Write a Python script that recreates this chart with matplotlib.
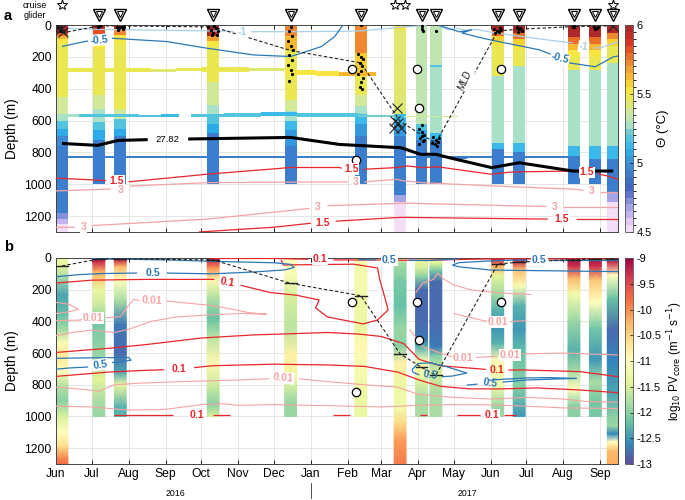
import numpy as np
import matplotlib
matplotlib.use("Agg")
import matplotlib.pyplot as plt
import matplotlib.dates as mdates
import matplotlib.transforms as mtransforms
from matplotlib.colors import ListedColormap, BoundaryNorm, Normalize
from matplotlib.cm import ScalarMappable

plt.rcParams['font.family'] = ['Liberation Sans', 'DejaVu Sans']
plt.rcParams['axes.unicode_minus'] = False


def d(s):
    return mdates.datestr2num(s)


def dl(lst):
    return np.array([d(s) for s in lst])

# ---------------------------------------------------------------- data
prof_dates = ['2016-06-06', '2016-07-07', '2016-07-25', '2016-10-11', '2016-12-15',
              '2017-02-12', '2017-03-17', '2017-04-04', '2017-04-16', '2017-06-07',
              '2017-06-25', '2017-08-10', '2017-08-28', '2017-09-12']
mld_depth = [50, 6, 6, 12, 160, 238, 605, 690, 740, 38, 26, 10, 8, 5]

# potential temperature step profiles (layer edges, values)
th_z1 = [0, 50, 70, 90, 110, 450, 560, 600, 650, 700, 760, 1180, 1220, 1250, 1300]
th_v1 = [5.97, 5.75, 5.6, 5.5, 5.45, 5.35, 5.27, 5.17, 5.07, 4.97, 4.92, 4.72, 4.62, 4.52]
th_z2 = [0, 30, 60, 90, 120, 150, 440, 530, 610, 660, 720, 1000]
th_v2 = [5.95, 5.8, 5.65, 5.55, 5.5, 5.45, 5.35, 5.27, 5.15, 5.05, 4.93]
th_z3 = [0, 30, 60, 110, 530, 590, 650, 700, 1000]
th_v3 = [5.95, 5.7, 5.52, 5.45, 5.35, 5.15, 5.05, 4.93]
th_z4 = [0, 70, 100, 130, 360, 500, 560, 620, 680, 1000]
th_v4 = [5.95, 5.65, 5.52, 5.45, 5.35, 5.27, 5.15, 5.05, 4.93]
th_z5 = [0, 70, 155, 470, 540, 600, 660, 760, 1000]
th_v5 = [5.72, 5.6, 5.45, 5.35, 5.25, 5.13, 5.03, 4.93]
th_z6 = [0, 175, 320, 440, 510, 560, 620, 700, 1000]
th_v6 = [5.72, 5.58, 5.45, 5.35, 5.27, 5.13, 5.03, 4.93]
th_z7 = [0, 30, 560, 620, 700, 1070, 1110, 1300]
th_v7 = [5.5, 5.43, 5.12, 5.03, 4.93, 4.65, 4.52]
th_z8 = [0, 620, 660, 720, 1000]
th_v8 = [5.33, 5.15, 5.05, 4.93]
th_z9 = [0, 250, 262, 680, 720, 1000]
th_v9 = [5.33, 5.15, 5.27, 5.12, 4.93]
th_z10 = [0, 40, 70, 100, 135, 320, 740, 780, 1000]
th_v10 = [5.95, 5.75, 5.55, 5.5, 5.45, 5.27, 5.12, 4.93]
th_z11 = [0, 50, 90, 130, 155, 260, 740, 800, 1000]
th_v11 = [5.95, 5.75, 5.58, 5.5, 5.45, 5.27, 5.12, 4.93]
th_z12 = [0, 75, 120, 160, 200, 280, 760, 820, 1000]
th_v12 = [5.95, 5.75, 5.6, 5.5, 5.45, 5.27, 5.12, 4.93]
th_z13 = [0, 75, 120, 160, 200, 280, 760, 840, 1000]
th_v13 = [5.95, 5.75, 5.6, 5.5, 5.45, 5.27, 5.12, 4.93]
th_z14 = [0, 50, 90, 130, 240, 760, 840, 1050, 1110, 1300]
th_v14 = [5.95, 5.7, 5.55, 5.45, 5.27, 5.12, 4.93, 4.65, 4.52]

# horizontal (float) bands: start, end, centre depth, half thickness, theta
band_t0 = ['2016-06-01', '2016-07-15', '2016-08-20', '2016-09-10', '2016-10-01', '2016-11-10',
           '2016-12-10', '2017-01-05', '2017-01-25',
           '2016-06-01', '2016-06-20', '2016-07-20', '2016-08-10', '2016-08-28', '2016-09-22',
           '2016-10-20', '2016-11-20', '2016-12-20', '2017-02-10', '2017-03-20',
           '2016-06-01', '2016-07-01', '2017-04-28', '2017-07-20']
band_t1 = ['2016-07-15', '2016-08-20', '2016-09-10', '2016-10-01', '2016-11-10', '2016-12-10',
           '2017-01-05', '2017-01-25', '2017-02-25',
           '2016-06-20', '2016-07-20', '2016-08-10', '2016-08-28', '2016-09-12', '2016-10-20',
           '2016-11-20', '2016-12-20', '2017-02-10', '2017-03-15', '2017-05-05',
           '2017-08-10', '2016-07-20', '2017-05-12', '2017-08-05']
band_z = [281, 283, 285, 280, 279, 282, 296, 305, 310,
          570, 570, 568, 572, 568, 568, 565, 560, 565, 570, 575,
          828, 828, 830, 830]
band_h = [12, 10, 8, 12, 14, 10, 15, 15, 13,
          8, 8, 11, 6, 11, 8, 10, 13, 10, 5, 4,
          5, 7, 10, 7]
band_v = [5.45, 5.45, 5.44, 5.45, 5.45, 5.44, 5.5, 5.53, 5.6,
          5.25, 5.18, 5.15, 5.18, 5.13, 5.15, 5.15, 5.13, 5.15, 5.2, 5.38,
          4.93, 4.93, 4.93, 4.93]

# log10 PV profiles (node depth, value)
pv_z1 = [0, 40, 120, 235, 360, 460, 530, 620, 720, 800, 900, 1000, 1100, 1185, 1260, 1300]
pv_v1 = [-11.3, -11.3, -11.8, -12.4, -12.2, -11.8, -11.1, -10.7, -11.0, -11.7, -12.0, -11.5, -11.0, -10.6, -10.0, -9.8]
pv_z2 = [0, 25, 85, 200, 300, 420, 520, 620, 760, 900, 1000]
pv_v2 = [-9.1, -9.3, -10.2, -11.3, -11.6, -12.1, -12.0, -11.9, -11.4, -11.8, -11.9]
pv_z3 = [0, 15, 55, 140, 270, 420, 600, 720, 800, 940, 1000]
pv_v3 = [-9.1, -9.3, -10.3, -11.0, -11.8, -12.7, -12.8, -12.4, -11.3, -12.3, -12.3]
pv_z4 = [0, 15, 60, 140, 240, 380, 500, 660, 820, 920, 1000]
pv_v4 = [-9.1, -9.3, -10.0, -10.9, -11.7, -12.2, -11.7, -10.9, -11.6, -12.0, -11.5]
pv_z5 = [0, 70, 240, 430, 610, 760, 910, 1000]
pv_v5 = [-11.0, -11.0, -11.5, -11.7, -10.8, -11.3, -11.9, -11.9]
pv_z6 = [0, 200, 450, 550, 660, 850, 1000]
pv_v6 = [-11.2, -11.2, -11.3, -10.9, -11.1, -11.3, -11.3]
pv_z7 = [0, 30, 150, 300, 450, 560, 660, 800, 950, 1060, 1150, 1300]
pv_v7 = [-11.2, -11.8, -12.1, -12.2, -11.9, -12.0, -10.8, -11.3, -11.2, -10.5, -10.1, -9.9]
pv_z8 = [0, 60, 120, 200, 400, 520, 560, 650, 750, 880, 1000]
pv_v8 = [-11.3, -11.5, -12.0, -12.8, -12.8, -12.7, -12.3, -11.1, -11.3, -11.8, -11.8]
pv_z9 = [0, 30, 80, 150, 400, 560, 620, 720, 850, 1000]
pv_v9 = [-11.4, -11.4, -12.1, -12.8, -12.8, -12.7, -12.0, -11.5, -11.8, -11.8]
pv_z10 = [0, 15, 50, 110, 240, 330, 450, 540, 640, 800, 940, 1000]
pv_v10 = [-9.1, -9.3, -10.2, -11.4, -11.9, -12.3, -12.5, -12.3, -10.9, -11.2, -11.9, -11.9]
pv_z11 = [0, 15, 70, 180, 300, 450, 600, 800, 920, 1000]
pv_v11 = [-9.1, -9.2, -10.3, -11.1, -12.3, -12.5, -12.2, -12.0, -12.3, -12.5]
pv_z12 = [0, 50, 130, 230, 400, 580, 720, 830, 930, 1000]
pv_v12 = [-9.1, -9.3, -10.3, -11.2, -11.9, -12.3, -11.8, -11.0, -12.0, -12.0]
pv_z13 = [0, 50, 140, 280, 440, 640, 780, 900, 1000]
pv_v13 = [-9.1, -9.3, -10.4, -11.0, -12.1, -12.5, -11.8, -12.1, -12.1]
pv_z14 = [0, 25, 110, 260, 450, 660, 850, 1000, 1060, 1110, 1160, 1220, 1300]
pv_v14 = [-9.1, -9.3, -11.0, -12.2, -12.8, -12.6, -12.4, -12.0, -11.9, -12.6, -11.0, -10.3, -10.2]

# ---- panel a contour lines (date, depth)
lb1 = (['2016-06-12', '2016-07-10', '2016-08-20', '2016-10-20', '2016-10-28'], [22, 28, 32, 38, 40])
lb2 = (['2016-11-12', '2016-12-20', '2017-01-20', '2017-02-10', '2017-03-01', '2017-03-20', '2017-04-08'],
       [42, 42, 40, 38, 26, 12, 4])
lb3 = (['2017-04-18', '2017-04-28', '2017-05-03', '2017-05-12', '2017-05-20', '2017-06-01',
        '2017-06-20', '2017-07-15', '2017-08-09'], [10, 30, 18, 35, 28, 45, 65, 90, 113])
lb4 = (['2017-08-26', '2017-09-01', '2017-09-16'], [144, 144, 105])
bl1 = (['2016-06-06', '2016-06-18', '2016-06-28'], [135, 115, 100])
bl2 = (['2016-07-18', '2016-09-02', '2016-10-06', '2016-11-14', '2016-12-15', '2016-12-24',
        '2017-01-10', '2017-01-21', '2017-01-27', '2017-01-28'], [83, 104, 146, 188, 198, 177, 135, 73, 10, 0])
bl3 = (['2017-04-20', '2017-04-26', '2017-05-06', '2017-05-16', '2017-05-08', '2017-05-20',
        '2017-06-01', '2017-07-12', '2017-07-22'], [6, 20, 43, 30, 50, 73, 94, 156, 185])
bl4 = (['2017-08-06', '2017-08-28', '2017-09-12', '2017-09-16'], [238, 262, 200, 195])
r15_1 = (['2016-06-01', '2016-07-08', '2016-07-13'], [962, 975, 978])
r15_2 = (['2016-08-01', '2016-10-06', '2016-12-15', '2017-01-25', '2017-01-27'], [985, 937, 895, 895, 900])
r15_3 = (['2017-02-14', '2017-03-13', '2017-03-23', '2017-04-05', '2017-04-17', '2017-06-01',
          '2017-06-19', '2017-08-09', '2017-08-12'], [906, 896, 885, 896, 890, 937, 923, 917, 920])
r15_4 = (['2017-08-30', '2017-09-07', '2017-09-16'], [935, 948, 969])
r15_5 = (['2016-09-29', '2016-12-01', '2017-01-01'], [1300, 1270, 1245])
r15_6 = (['2017-01-22', '2017-03-17', '2017-07-19'], [1232, 1208, 1219])
r15_7 = (['2017-08-12', '2017-09-16'], [1219, 1219])
p3_1 = (['2016-06-01', '2016-07-17'], [1042, 1030])
p3_2 = (['2016-08-02', '2016-10-06', '2017-02-01'], [1012, 990, 985])
p3_3 = (['2017-02-15', '2017-03-14', '2017-03-20', '2017-04-04', '2017-06-01', '2017-08-09',
         '2017-08-18'], [985, 969, 979, 990, 1010, 1031, 1038])
p3_4 = (['2017-09-01', '2017-09-16'], [1048, 1048])
p3_5 = (['2016-06-01', '2016-06-17'], [1271, 1270])
p3_6 = (['2016-07-01', '2016-10-06', '2016-12-31'], [1260, 1219, 1152])
p3_7 = (['2017-01-15', '2017-03-22', '2017-07-18'], [1135, 1119, 1140])
p3_8 = (['2017-08-01', '2017-09-16'], [1146, 1146])
k_1 = (['2016-06-06', '2016-07-06', '2016-07-23', '2016-08-17'], [744, 756, 725, 720])
k_2 = (['2016-09-20', '2016-12-15', '2017-01-25', '2017-03-18', '2017-04-03', '2017-04-16',
        '2017-04-27', '2017-06-02', '2017-06-25', '2017-08-09', '2017-09-12'],
       [716, 706, 750, 771, 812, 812, 833, 896, 865, 917, 917])

# circles, crosses, glider dots
circ_t = ['2017-02-05', '2017-03-31', '2017-04-02', '2017-06-10', '2017-02-08']
circ_z = [275, 275, 520, 275, 845]
cross_t = ['2016-06-03', '2016-06-05', '2016-06-07', '2016-06-04', '2017-03-14', '2017-03-13',
           '2017-03-15', '2017-03-12', '2017-03-18', '2017-09-12']
cross_z = [8, 25, 45, 15, 520, 600, 615, 645, 648, 5]
dot_t = ['2016-06-03', '2016-06-05', '2016-06-07', '2016-06-04',
         '2016-07-07', '2016-07-06', '2016-07-08',
         '2016-07-22', '2016-07-24', '2016-07-26', '2016-07-28', '2016-07-23', '2016-07-27',
         '2016-10-07', '2016-10-09', '2016-10-11', '2016-10-13', '2016-10-15', '2016-10-10',
         '2016-10-12', '2016-10-14',
         '2016-12-15', '2016-12-14', '2016-12-16', '2016-12-13', '2016-12-15', '2016-12-17',
         '2016-12-14', '2016-12-16', '2016-12-13', '2016-12-15', '2016-12-16', '2016-12-14',
         '2017-02-10', '2017-02-12', '2017-02-14', '2017-02-11', '2017-02-13', '2017-02-12',
         '2017-02-10', '2017-02-14', '2017-02-12', '2017-02-11', '2017-02-13', '2017-02-12',
         '2017-04-04', '2017-04-04', '2017-04-05',
         '2017-04-02', '2017-04-04', '2017-04-06', '2017-04-03', '2017-04-05', '2017-04-04',
         '2017-04-02', '2017-04-06', '2017-04-04',
         '2017-04-16', '2017-04-14', '2017-04-16', '2017-04-18', '2017-04-15', '2017-04-17',
         '2017-04-19', '2017-04-13',
         '2017-06-04', '2017-06-06', '2017-06-08', '2017-06-10', '2017-06-05', '2017-06-09',
         '2017-06-23', '2017-06-25', '2017-06-27', '2017-06-24', '2017-06-26',
         '2017-08-10', '2017-08-10', '2017-08-09',
         '2017-08-27', '2017-08-29', '2017-08-28', '2017-08-30']
dot_z = [10, 20, 35, 40,
         5, 10, 8,
         10, 20, 15, 10, 30, 28,
         10, 30, 50, 20, 40, 60, 5, 65,
         10, 40, 70, 100, 130, 160, 190, 220, 250, 280, 310, 350,
         180, 200, 215, 240, 260, 290, 310, 330, 360, 390, 405, 2,
         5, 25, 40,
         650, 670, 690, 710, 730, 700, 745, 720, 625,
         40, 705, 720, 735, 750, 760, 710, 740,
         25, 35, 45, 30, 50, 20,
         15, 25, 35, 45, 20,
         5, 15, 10,
         10, 20, 25, 15]

# ---- panel b contour lines
br_s1 = (['2016-10-08', '2016-12-01', '2016-12-30'], [3, 3, 8])
br_s2 = (['2017-01-20', '2017-03-01', '2017-04-01', '2017-05-01', '2017-06-01', '2017-09-16'], [12, 13, 15, 10, 6, 6])
br_a1 = (['2016-06-01', '2016-07-01', '2016-08-15', '2016-10-12'], [158, 140, 135, 135])
br_a2 = (['2016-11-03', '2016-11-28', '2016-12-20', '2017-01-08', '2017-01-05', '2017-01-15',
          '2017-02-14', '2017-02-26', '2017-03-07', '2017-03-04', '2017-02-28', '2017-02-26',
          '2017-02-06', '2016-12-09', '2016-12-07'],
         [172, 218, 235, 265, 315, 372, 416, 391, 328, 245, 139, 63, 39, 44, 12])
br_b1 = (['2016-06-01', '2016-07-15', '2016-08-15', '2016-10-01', '2016-11-15', '2016-12-15',
          '2017-01-15', '2017-02-10', '2017-03-01', '2017-03-20', '2017-04-02', '2017-04-20',
          '2017-05-20', '2017-05-28'],
         [596, 570, 547, 505, 485, 478, 470, 480, 495, 540, 640, 680, 698, 703])
br_b2 = (['2017-06-16', '2017-07-01', '2017-08-15', '2017-09-16'], [707, 707, 717, 749])
br_c1 = (['2016-06-01', '2016-07-15', '2016-08-15', '2016-08-31'], [747, 720, 709, 705])
br_c2 = (['2016-09-25', '2016-10-10', '2016-12-01', '2017-01-15', '2017-02-15', '2017-03-15',
          '2017-04-02', '2017-04-20', '2017-05-15', '2017-06-10', '2017-07-10', '2017-08-15',
          '2017-09-16'], [692, 680, 670, 675, 684, 720, 770, 810, 826, 826, 820, 833, 850])
br_d1 = (['2016-07-20', '2016-09-07'], [989, 989])
br_d2 = (['2016-10-11', '2016-10-25'], [989, 989])
br_d3 = (['2017-01-20', '2017-02-03'], [989, 989])
br_d4 = (['2017-04-03', '2017-04-09'], [989, 989])
br_d5 = (['2017-05-04', '2017-05-23'], [989, 989])
br_d6 = (['2017-06-12', '2017-06-22'], [989, 989])
bb_1 = (['2016-06-01', '2016-06-20', '2016-07-10', '2016-08-08'], [118, 105, 98, 95])
bb_2 = (['2016-09-02', '2016-10-10', '2016-11-15', '2016-12-10', '2016-12-18', '2016-12-15',
         '2016-12-01', '2016-10-15', '2016-09-01', '2016-07-15', '2016-07-01'],
        [95, 100, 88, 75, 60, 40, 30, 22, 12, 6, 5])
bb_3 = (['2016-06-01', '2016-07-01', '2016-08-01', '2016-08-03', '2016-07-25', '2016-07-18'],
        [633, 630, 628, 645, 655, 660])
bb_4 = (['2016-06-28', '2016-06-12', '2016-06-01'], [688, 694, 702])
bb_5 = (['2017-02-10', '2017-02-25'], [10, 12])
bb_6 = (['2017-03-24', '2017-04-10', '2017-04-25', '2017-05-05'], [14, 16, 10, 5])
bb_7 = (['2017-04-30', '2017-05-05', '2017-05-20', '2017-06-10', '2017-07-02'], [45, 30, 23, 15, 13])
bb_8 = (['2017-07-22', '2017-09-16'], [13, 13])
bb_9 = (['2017-04-30', '2017-05-05', '2017-06-01', '2017-09-16'], [45, 55, 76, 86])
bb_10 = (['2017-03-27', '2017-04-01', '2017-04-12', '2017-04-25', '2017-05-12', '2017-04-30',
          '2017-04-21'], [705, 665, 662, 686, 726, 745, 749])
bb_11 = (['2017-04-02', '2017-03-28', '2017-03-27'], [738, 722, 705])
bb_12 = (['2017-05-12', '2017-05-21'], [802, 796])
bb_13 = (['2017-06-11', '2017-07-01', '2017-08-01', '2017-08-12', '2017-07-20', '2017-07-01',
          '2017-06-12', '2017-05-30'], [783, 770, 762, 760, 755, 757, 765, 772])
pk_1 = (['2016-06-01', '2016-06-12', '2016-06-20', '2016-06-08', '2016-06-01'], [280, 292, 325, 345, 350])
pk_2 = (['2016-06-01', '2016-06-20', '2016-06-24'], [395, 392, 388])
pk_3 = (['2016-07-13', '2016-07-25', '2016-08-01', '2016-08-05', '2016-08-10'], [378, 370, 300, 262, 268])
pk_4 = (['2016-09-02', '2016-09-20', '2016-10-10', '2016-10-25', '2016-11-10', '2016-11-25',
         '2016-11-05', '2016-10-10', '2016-09-10', '2016-08-20', '2016-08-01', '2016-07-20',
         '2016-07-01', '2016-06-15', '2016-06-01'],
        [272, 285, 300, 320, 345, 355, 350, 358, 372, 400, 450, 470, 455, 470, 490])
pk_5 = (['2016-06-01', '2016-06-25', '2016-07-07', '2016-07-20', '2016-08-10', '2016-09-15',
         '2016-11-01', '2016-11-27'], [815, 830, 840, 800, 790, 780, 770, 762])
pk_6 = (['2016-12-22', '2017-01-15', '2017-02-15', '2017-03-15', '2017-04-01', '2017-05-01',
         '2017-06-01', '2017-07-01', '2017-08-01', '2017-08-20', '2017-09-16'],
        [762, 780, 800, 815, 860, 880, 890, 880, 890, 905, 910])
pk_7 = (['2016-06-01', '2016-07-01', '2016-08-01', '2016-09-01', '2016-10-01', '2016-10-20',
         '2016-11-01', '2016-12-01', '2017-01-01', '2017-02-01', '2017-03-01', '2017-04-01',
         '2017-05-01', '2017-06-01', '2017-07-01', '2017-08-01', '2017-09-16'],
        [935, 940, 960, 955, 925, 920, 930, 925, 930, 935, 940, 930, 925, 927, 935, 946, 950])
pk_8 = (['2017-03-30', '2017-04-05', '2017-04-14', '2017-04-18', '2017-04-22', '2017-05-01',
         '2017-05-15', '2017-06-01', '2017-06-20', '2017-07-05'],
        [220, 160, 135, 95, 130, 170, 200, 215, 225, 230])
pk_9 = (['2017-05-01', '2017-05-20', '2017-05-29'], [350, 385, 400])
pk_10 = (['2017-06-17', '2017-07-01'], [402, 395])
pk_11 = (['2017-03-25', '2017-04-05', '2017-04-20', '2017-04-30'], [450, 560, 600, 625])
pk_12 = (['2017-05-20', '2017-06-06'], [628, 620])
pk_13 = (['2017-06-27', '2017-08-01', '2017-09-16'], [605, 600, 612])

# ---------------------------------------------------------------- colours
theta_cols = ['#f2def6', '#e2cbf2', '#c4b4ee', '#a4a4e6', '#8290da', '#5e74cf', '#3f66c4',
              '#3a6fc6', '#3c7ecd', '#3c8ad4', '#3699de', '#2daae8', '#3bbaea', '#52c4de',
              '#74ccd0', '#a8e0c8', '#c0e5b2', '#d2e99c', '#dde870', '#e9e852', '#f7e541',
              '#f8cf32', '#f7b831', '#f3a031', '#ef8830', '#ea6e28', '#e55022', '#dc3222',
              '#c52a28', '#ad2828']
theta_cmap = ListedColormap(theta_cols)
theta_norm = BoundaryNorm(np.linspace(4.5, 6.0, 31), 30)
pv_cmap = plt.get_cmap('Spectral_r')
pv_norm = Normalize(-13, -9)

C_RED = '#e8262b'
C_PINK = '#f6a3a3'
C_BLUE = '#2a78b8'
C_LBLUE = '#a9d0ea'

xmin, xmax = d('2016-06-01'), d('2017-09-16')
HW = 5.0

fig = plt.figure(figsize=(6.85, 5.0), dpi=100)
ax1 = fig.add_axes([56/685, 1-232/500, 562/685, 207/500])
ax2 = fig.add_axes([56/685, 1-464/500, 562/685, 206/500])
cax1 = fig.add_axes([625/685, 1-232/500, 8/685, 207/500])
cax2 = fig.add_axes([625/685, 1-464/500, 8/685, 206/500])


def style(ax):
    ax.set_xlim(xmin, xmax)
    ax.set_ylim(1300, 0)
    ax.set_yticks(range(0, 1300, 200))
    ax.xaxis.set_major_locator(mdates.MonthLocator())
    ax.xaxis.set_major_formatter(mdates.DateFormatter('%b'))
    ax.tick_params(direction='in', top=True, right=True, length=3, width=0.6,
                   labelsize=8.7, pad=3)
    ax.grid(True, color='#e2e2e2', lw=0.6)
    ax.set_axisbelow(True)
    for sp in ax.spines.values():
        sp.set_linewidth(0.7)
        sp.set_color('#444444')
    ax.set_ylabel('Depth (m)', fontsize=9.8, labelpad=4)


def line(ax, seg, color, lw=0.9, z=3):
    ax.plot(dl(seg[0]), seg[1], color=color, lw=lw, zorder=z, solid_capstyle='butt')


def lab(ax, t, z, s, color, rot=0, box=True, size=7.6, weight='bold', style_='normal'):
    kw = dict(ha='center', va='center', color=color, fontsize=size, fontweight=weight,
              rotation=rot, zorder=7, fontstyle=style_)
    if box:
        kw['bbox'] = dict(boxstyle='square,pad=0.08', fc='white', ec='none')
    ax.text(d(t), z, s, **kw)


# ---------------------------------------------------------------- panel a
style(ax1)
ax1.tick_params(labelbottom=False)
th_z = [th_z1, th_z2, th_z3, th_z4, th_z5, th_z6, th_z7, th_z8, th_z9, th_z10, th_z11, th_z12, th_z13, th_z14]
th_v = [th_v1, th_v2, th_v3, th_v4, th_v5, th_v6, th_v7, th_v8, th_v9, th_v10, th_v11, th_v12, th_v13, th_v14]
for t, zz, vv in zip(prof_dates, th_z, th_v):
    x0 = d(t)
    ax1.pcolormesh([x0-HW, x0+HW], zz, np.array(vv)[:, None], cmap=theta_cmap, norm=theta_norm,
                   shading='flat', zorder=1, linewidth=0, antialiased=False)
for t0, t1, zc, hh, vv in zip(band_t0, band_t1, band_z, band_h, band_v):
    ax1.pcolormesh([d(t0), d(t1)], [zc-hh, zc+hh], np.array([[vv]]), cmap=theta_cmap, norm=theta_norm,
                   shading='flat', zorder=1.5, linewidth=0, antialiased=False)

for seg in (lb1, lb2, lb3, lb4):
    line(ax1, seg, C_LBLUE)
for seg in (bl1, bl2, bl3, bl4):
    line(ax1, seg, C_BLUE)
for seg in (r15_1, r15_2, r15_3, r15_4, r15_5, r15_6, r15_7):
    line(ax1, seg, C_RED)
for seg in (p3_1, p3_2, p3_3, p3_4, p3_5, p3_6, p3_7, p3_8):
    line(ax1, seg, C_PINK)
for seg in (k_1, k_2):
    line(ax1, seg, 'black', lw=2.2, z=3.5)

ax1.plot(dl(prof_dates), mld_depth, color='#222222', lw=0.8, ls=(0, (3, 2)), zorder=4)
ax1.plot(dl(dot_t), dot_z, 'o', color='black', ms=2.3, mew=0, zorder=5)
ax1.plot(dl(cross_t), cross_z, 'x', color='#222222', ms=6.5, mew=0.8, zorder=5)
ax1.plot(dl(circ_t), circ_z, 'o', mfc='white', mec='black', ms=6, mew=0.9, zorder=6)

lab(ax1, '2016-11-04', 42, '-1', C_LBLUE)
lab(ax1, '2016-07-07', 94, '-0.5', C_BLUE, rot=5)
lab(ax1, '2017-07-29', 212, '-0.5', C_BLUE, rot=-14)
lab(ax1, '2017-08-18', 137, '-1', C_LBLUE, rot=-8)
lab(ax1, '2016-07-22', 980, '1.5', C_RED)
lab(ax1, '2017-02-04', 906, '1.5', C_RED)
lab(ax1, '2017-08-21', 926, '1.5', C_RED)
lab(ax1, '2016-07-25', 1036, '3', C_PINK)
lab(ax1, '2017-02-08', 987, '3', C_PINK)
lab(ax1, '2017-08-25', 1043, '3', C_PINK)
lab(ax1, '2016-06-24', 1268, '3', C_PINK)
lab(ax1, '2017-01-07', 1146, '3', C_PINK)
lab(ax1, '2017-07-25', 1146, '3', C_PINK)
lab(ax1, '2017-01-11', 1242, '1.5', C_RED)
lab(ax1, '2017-07-31', 1219, '1.5', C_RED)
lab(ax1, '2016-09-03', 719, '27.82', 'black', weight='normal', size=6.8)
lab(ax1, '2017-05-11', 345, 'MLD', '#222222', rot=66, weight='normal', size=7, style_='italic')

# top markers
trans1 = mtransforms.blended_transform_factory(ax1.transData, ax1.transAxes)
glider_t = ['2016-07-07', '2016-07-25', '2016-10-11', '2016-12-15', '2017-02-12', '2017-04-04',
            '2017-04-16', '2017-06-07', '2017-06-25', '2017-08-10', '2017-08-28', '2017-09-12']
cruise_t = ['2016-06-06', '2017-03-13', '2017-03-21', '2017-09-12']
ax1.plot(dl(glider_t), [1.048]*len(glider_t), 'v', mfc='white', mec='black', ms=8.5, mew=1.0,
         transform=trans1, clip_on=False, zorder=8)
ax1.plot(dl(glider_t), [1.055]*len(glider_t), 'v', mfc='white', mec='black', ms=4.0, mew=0.7,
         transform=trans1, clip_on=False, zorder=9)
ax1.plot(dl(cruise_t), [1.098]*len(cruise_t), '*', mfc='white', mec='black', ms=8, mew=0.7,
         transform=trans1, clip_on=False, zorder=8)

# ---------------------------------------------------------------- panel b
style(ax2)
pv_z = [pv_z1, pv_z2, pv_z3, pv_z4, pv_z5, pv_z6, pv_z7, pv_z8, pv_z9, pv_z10, pv_z11, pv_z12, pv_z13, pv_z14]
pv_v = [pv_v1, pv_v2, pv_v3, pv_v4, pv_v5, pv_v6, pv_v7, pv_v8, pv_v9, pv_v10, pv_v11, pv_v12, pv_v13, pv_v14]
for t, zz, vv in zip(prof_dates, pv_z, pv_v):
    x0 = d(t)
    X, Y = np.meshgrid([x0-HW, x0+HW], zz)
    C = np.column_stack([vv, vv])
    ax2.pcolormesh(X, Y, C, cmap=pv_cmap, norm=pv_norm, shading='gouraud', zorder=1)

for seg in (br_s1, br_s2, br_a1, br_a2, br_b1, br_b2, br_c1, br_c2,
            br_d1, br_d2, br_d3, br_d4, br_d5, br_d6):
    line(ax2, seg, C_RED)
for seg in (pk_1, pk_2, pk_3, pk_4, pk_5, pk_6, pk_7, pk_8, pk_9, pk_10, pk_11, pk_12, pk_13):
    line(ax2, seg, C_PINK, lw=0.8)
for seg in (bb_1, bb_2, bb_3, bb_4, bb_5, bb_6, bb_7, bb_8, bb_9, bb_10, bb_11, bb_12, bb_13):
    line(ax2, seg, C_BLUE)

ax2.plot(dl(prof_dates), mld_depth, color='#222222', lw=0.8, ls=(0, (3, 2)), zorder=4)
for t, zm in zip(prof_dates, mld_depth):
    x0 = d(t)
    ax2.plot([x0-HW, x0+HW], [zm, zm], color='#222222', lw=1.0, zorder=4.5)
ax2.plot(dl(circ_t), circ_z, 'o', mfc='white', mec='black', ms=6, mew=0.9, zorder=6)

lab(ax2, '2017-01-09', 9, '0.1', C_RED)
lab(ax2, '2016-10-23', 152, '0.1', C_RED, rot=-10)
lab(ax2, '2016-09-12', 702, '0.1', C_RED)
lab(ax2, '2016-09-27', 989, '0.1', C_RED)
lab(ax2, '2017-06-06', 709, '0.1', C_RED, box=False)
lab(ax2, '2017-06-02', 989, '0.1', C_RED)
lab(ax2, '2016-08-21', 92, '0.5', C_BLUE)
lab(ax2, '2016-07-08', 673, '0.5', C_BLUE, rot=8)
lab(ax2, '2017-03-08', 13, '0.5', C_BLUE)
lab(ax2, '2017-07-12', 11, '0.5', C_BLUE)
lab(ax2, '2017-04-11', 738, '0.5', C_BLUE, rot=-8, box=False)
lab(ax2, '2017-06-01', 791, '0.5', C_BLUE, rot=-8, box=False)
lab(ax2, '2016-08-21', 270, '0.01', C_PINK, rot=-3)
lab(ax2, '2016-07-02', 380, '0.01', C_PINK)
lab(ax2, '2016-12-09', 757, '0.01', C_PINK, rot=-5)
lab(ax2, '2017-06-07', 405, '0.01', C_PINK)
lab(ax2, '2017-05-09', 631, '0.01', C_PINK)
lab(ax2, '2017-06-17', 612, '0.01', C_PINK)

# year annotation below panel b
fig.text(175/685, 1-494/500, '2016', ha='center', va='center', fontsize=6.3)
fig.text(467/685, 1-494/500, '2017', ha='center', va='center', fontsize=6.3)
trans2 = mtransforms.blended_transform_factory(ax2.transData, ax2.transAxes)
ax2.plot([d('2017-01-01')]*2, [-0.09, -0.165], color='#333333', lw=0.6, transform=trans2, clip_on=False)

# ---------------------------------------------------------------- colourbars
cb1 = fig.colorbar(ScalarMappable(norm=theta_norm, cmap=theta_cmap), cax=cax1,
                   ticks=[4.5, 5, 5.5, 6])
cb1.ax.set_yticklabels(['4.5', '5', '5.5', '6'])
cb1.set_label('Θ (°C)', fontsize=9.5, labelpad=4)
cb2 = fig.colorbar(ScalarMappable(norm=pv_norm, cmap=pv_cmap), cax=cax2,
                   ticks=np.arange(-13, -8.9, 0.5))
cb2.ax.set_yticklabels(['%g' % v for v in np.arange(-13, -8.9, 0.5)])
for cb in (cb1, cb2):
    cb.ax.tick_params(direction='in', length=2.5, width=0.5, labelsize=7.9, pad=2.5)
    cb.outline.set_linewidth(0.6)
    cb.outline.set_edgecolor('#555555')
cb2.set_label(r'log$_{10}$ PV$_{\rm core}$ (m$^{-1}$ s$^{-1}$)', fontsize=8.4, labelpad=3)

# ---------------------------------------------------------------- figure text
fig.text(4/685, 1-16/500, 'a', fontsize=10.5, fontweight='bold', ha='left', va='center')
fig.text(4/685, 1-247/500, 'b', fontsize=10.5, fontweight='bold', ha='left', va='center')
fig.text(35/685, 1-6/500, 'cruise', fontsize=6.5, ha='center', va='center')
fig.text(35/685, 1-16/500, 'glider', fontsize=6.5, ha='center', va='center')

fig.savefig('out.png', dpi=100)
